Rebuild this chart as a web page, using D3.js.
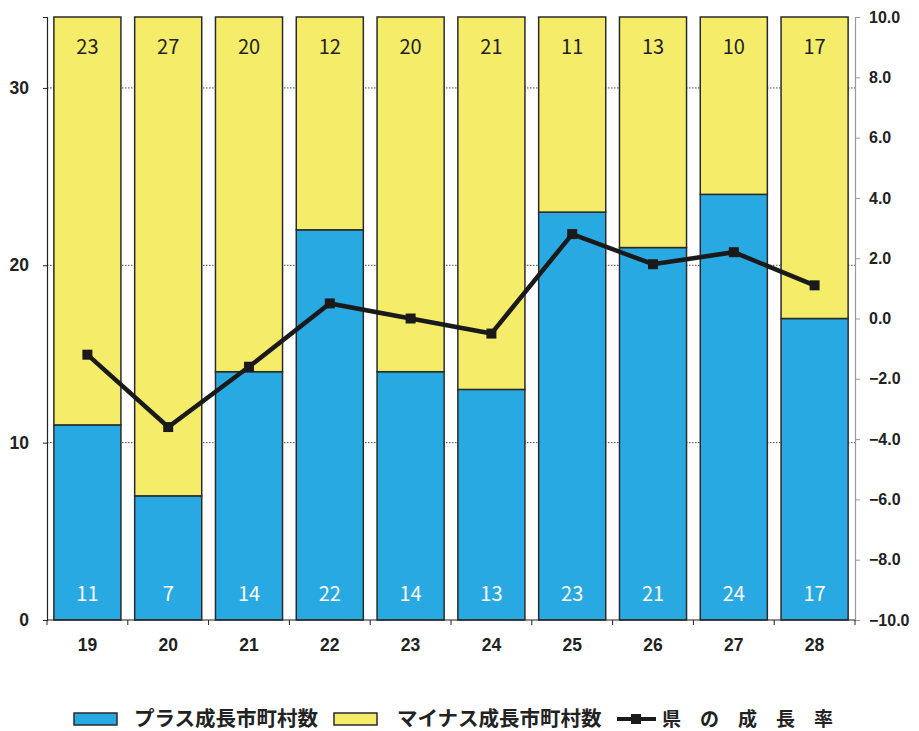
<!DOCTYPE html>
<html><head><meta charset="utf-8">
<script src="https://cdn.jsdelivr.net/npm/d3@7"></script>
<style>body{margin:0;background:#fff}svg{display:block}</style>
</head><body><svg id="c" width="919" height="731"></svg>
<script>
const categories = ["19","20","21","22","23","24","25","26","27","28"];
const plusCounts = [11,7,14,22,14,13,23,21,24,17];
const minusCounts = [23,27,20,12,20,21,11,13,10,17];
const growthRate = [-1.2,-3.6,-1.6,0.5,0.0,-0.5,2.8,1.8,2.2,1.1];
const leftTicks = [0,10,20,30];
const rightTicks = [-10,-8,-6,-4,-2,0,2,4,6,8,10];
const legendLabels = ["プラス成長市町村数","マイナス成長市町村数","県　の　成　長　率"];

const svg = d3.select("#c");
const L = 47, R = 855, T = 17, B = 620;
const font = "'Noto Sans CJK JP', 'Liberation Sans', sans-serif";
const numFont = "'Liberation Sans', Arial, sans-serif";
const blue = "#29A9E1", yellow = "#F5ED6A", outline = "#2a2a2a";

const x = d3.scaleBand().domain(categories).range([L, R]).paddingInner(0.17).paddingOuter(0.085);
const xb = d3.scaleBand().domain(categories).range([L, R]);
const yL = d3.scaleLinear().domain([0, 34]).range([B, T]);
const yR = d3.scaleLinear().domain([-10, 10]).range([B, T]);

// gridlines
svg.append("g").selectAll("line").data(leftTicks.filter(d=>d>0)).join("line")
  .attr("x1", L).attr("x2", R).attr("y1", d=>yL(d)).attr("y2", d=>yL(d))
  .attr("stroke", "#222").attr("stroke-width", 0.8).attr("stroke-dasharray", "1.5,1.5");

// bars
const g = svg.append("g");
categories.forEach((c,i)=>{
  g.append("rect").attr("x", x(c)).attr("width", x.bandwidth())
    .attr("y", yL(plusCounts[i])).attr("height", yL(0)-yL(plusCounts[i]))
    .attr("fill", blue).attr("stroke", outline).attr("stroke-width", 1.5);
  g.append("rect").attr("x", x(c)).attr("width", x.bandwidth())
    .attr("y", yL(plusCounts[i]+minusCounts[i])).attr("height", yL(plusCounts[i])-yL(plusCounts[i]+minusCounts[i]))
    .attr("fill", yellow).attr("stroke", outline).attr("stroke-width", 1.5);
  g.append("text").attr("x", x(c)+x.bandwidth()/2).attr("y", 54).attr("text-anchor","middle")
    .attr("font-family", font).attr("font-size", 20).attr("fill", "#222").text(minusCounts[i]);
  g.append("text").attr("x", x(c)+x.bandwidth()/2).attr("y", 601).attr("text-anchor","middle")
    .attr("font-family", font).attr("font-size", 20).attr("fill", "#fff").text(plusCounts[i]);
});

// left axis
const la = svg.append("g").attr("transform", `translate(${L},0)`)
  .call(d3.axisLeft(yL).tickValues(leftTicks).tickSize(4).tickPadding(14));
la.select(".domain").attr("stroke", "#222").attr("stroke-width", 1.2);
la.selectAll(".tick line").attr("stroke", "#222");
la.selectAll("text").attr("font-family", numFont).attr("font-weight", "bold").attr("font-size", 17.5).attr("fill", "#222");

// right axis
const ra = svg.append("g").attr("transform", `translate(${R},0)`)
  .call(d3.axisRight(yR).tickValues(rightTicks).tickSize(5).tickPadding(9).tickFormat(d=>d3.format(".1f")(d).replace("-", "−")));
ra.select(".domain").attr("stroke", "#999").attr("stroke-width", 1.2);
ra.selectAll(".tick line").attr("stroke", "#999");
ra.selectAll("text").attr("font-family", numFont).attr("font-weight", "bold").attr("font-size", 16).attr("fill", "#222");

// bottom axis
const ba = svg.append("g").attr("transform", `translate(0,${B})`);
ba.append("line").attr("x1", L).attr("x2", R).attr("stroke", "#222").attr("stroke-width", 1.2);
ba.selectAll("line.t").data(categories.concat(["end"])).join("line").attr("class","t")
  .attr("x1", (d,i)=> i<categories.length ? xb(d) : R).attr("x2", (d,i)=> i<categories.length ? xb(d) : R)
  .attr("y1", 0).attr("y2", 5).attr("stroke", "#222");
ba.selectAll("text").data(categories).join("text")
  .attr("x", d=>xb(d)+xb.bandwidth()/2).attr("y", 31).attr("text-anchor","middle")
  .attr("font-family", numFont).attr("font-weight","bold").attr("font-size", 17.5).attr("fill","#222").text(d=>d);

// line
const line = d3.line().x((d,i)=>xb(categories[i])+xb.bandwidth()/2).y(d=>yR(d));
svg.append("path").datum(growthRate).attr("d", line).attr("fill","none")
  .attr("stroke","#1a1a1a").attr("stroke-width", 4.5).attr("stroke-linejoin","miter");
svg.append("g").selectAll("rect").data(growthRate).join("rect")
  .attr("x", (d,i)=>xb(categories[i])+xb.bandwidth()/2-5).attr("y", d=>yR(d)-5)
  .attr("width", 10).attr("height", 10).attr("fill", "#1a1a1a");

// legend
const lg = svg.append("g");
const ly = 719;
lg.append("rect").attr("x",74).attr("y",ly-6).attr("width",43).attr("height",12).attr("fill",blue).attr("stroke",outline).attr("stroke-width",1.5);
lg.append("text").attr("x",134).attr("y",ly+7).attr("font-family",font).attr("font-weight","bold").attr("font-size",20.5).attr("fill","#222").text(legendLabels[0]);
lg.append("rect").attr("x",334).attr("y",ly-6).attr("width",43).attr("height",12).attr("fill",yellow).attr("stroke",outline).attr("stroke-width",1.5);
lg.append("text").attr("x",397).attr("y",ly+7).attr("font-family",font).attr("font-weight","bold").attr("font-size",20.5).attr("fill","#222").text(legendLabels[1]);
lg.append("line").attr("x1",617).attr("x2",656).attr("y1",ly).attr("y2",ly).attr("stroke","#1a1a1a").attr("stroke-width",4);
lg.append("rect").attr("x",631).attr("y",ly-5).attr("width",10).attr("height",10).attr("fill","#1a1a1a");
lg.append("text").attr("x",662).attr("y",ly+7).attr("font-family",font).attr("font-weight","bold").attr("font-size",19).attr("fill","#222").text(legendLabels[2]);
</script></body></html>
